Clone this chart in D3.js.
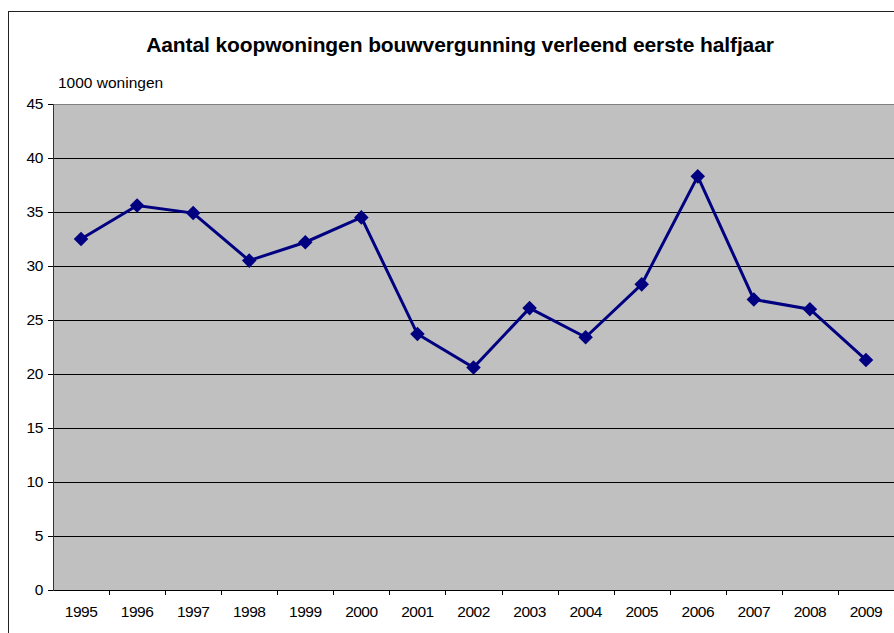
<!DOCTYPE html>
<html>
<head>
<meta charset="utf-8">
<script src="https://cdn.jsdelivr.net/npm/d3@7"></script>
<style>
  body { margin: 0; background: #fff; }
  text { font-family: Arial, "Liberation Sans", sans-serif; fill: #000; }
</style>
</head>
<body>
<div id="chart"></div>
<script>
var years = ['1995','1996','1997','1998','1999','2000','2001','2002','2003','2004','2005','2006','2007','2008','2009']
var values = [32.5, 35.6, 34.9, 30.5, 32.2, 34.5, 23.7, 20.6, 26.1, 23.4, 28.3, 38.3, 26.9, 26.0, 21.3]
var yTicks = [0, 5, 10, 15, 20, 25, 30, 35, 40, 45]

var width = 894, height = 633
var margin = {top: 104, right: 0, bottom: 43, left: 53}
var plotW = width - margin.left - margin.right,
    plotH = height - margin.top - margin.bottom

var svg = d3.select('#chart').append('svg')
  .attr('width', width)
  .attr('height', height)

// outer chart border
svg.append('rect')
  .attr('x', 8.5).attr('y', 11.5)
  .attr('width', 900).attr('height', 640)
  .attr('fill', '#fff')
  .attr('stroke', '#222')

svg.append('text')
  .attr('x', 460).attr('y', 52)
  .attr('text-anchor', 'middle')
  .style('font-size', '21px')
  .style('font-weight', 'bold')
  .style('letter-spacing', '-0.1px')
  .text('Aantal koopwoningen bouwvergunning verleend eerste halfjaar')

svg.append('text')
  .attr('x', 58).attr('y', 88)
  .style('font-size', '15.5px')
  .style('letter-spacing', '0px')
  .text('1000 woningen')

var g = svg.append('g')
  .attr('transform', 'translate(' + margin.left + ',' + margin.top + ')')

var x = d3.scaleBand().domain(years).range([0, plotW])
var y = d3.scaleLinear().domain([0, 45]).range([plotH, 0])

g.append('rect')
  .attr('width', plotW).attr('height', plotH)
  .attr('fill', '#c0c0c0')

// gridlines
g.selectAll('.grid')
  .data(yTicks.filter(function(d) {return d > 0 && d < 45}))
  .enter().append('line')
  .attr('x1', 0).attr('x2', plotW)
  .attr('y1', function(d) {return Math.round(y(d)) + 0.5})
  .attr('y2', function(d) {return Math.round(y(d)) + 0.5})
  .attr('stroke', '#000')

g.append('line')
  .attr('x1', 0).attr('x2', plotW)
  .attr('y1', 0.5).attr('y2', 0.5)
  .attr('stroke', '#808080')

// y axis
var yAxis = g.append('g')
  .call(d3.axisLeft(y).tickValues(yTicks).tickSize(5).tickPadding(5))
yAxis.select('.domain').attr('stroke', '#333')
yAxis.selectAll('text').style('font-size', '15.5px').style('letter-spacing', '-0.4px')
  .attr('font-family', null)

// x axis with ticks at category boundaries
var xAxis = g.append('g')
  .attr('transform', 'translate(0,' + plotH + ')')
  .call(d3.axisBottom(x).tickSize(0).tickPadding(16))
xAxis.select('.domain').attr('stroke', '#000')
xAxis.selectAll('text').style('font-size', '15.5px').style('letter-spacing', '-0.5px')
  .attr('font-family', null)
xAxis.selectAll('.boundary')
  .data(years.slice(1))
  .enter().append('line')
  .attr('x1', function(d) {return Math.round(x(d)) + 0.5})
  .attr('x2', function(d) {return Math.round(x(d)) + 0.5})
  .attr('y1', 0).attr('y2', 5)
  .attr('stroke', '#000')

// line
var line = d3.line()
  .x(function(d, i) {return x(years[i]) + x.bandwidth() / 2})
  .y(function(d) {return y(d)})

g.append('path')
  .datum(values)
  .attr('d', line)
  .attr('fill', 'none')
  .attr('stroke', '#000080')
  .attr('stroke-width', 3)

g.selectAll('.marker')
  .data(values)
  .enter().append('path')
  .attr('transform', function(d, i) {
    return 'translate(' + (x(years[i]) + x.bandwidth() / 2) + ',' + y(d) + ')'
  })
  .attr('d', d3.symbol().type(d3.symbolDiamond2).size(135))
  .attr('fill', '#000080')
</script>
</body>
</html>
